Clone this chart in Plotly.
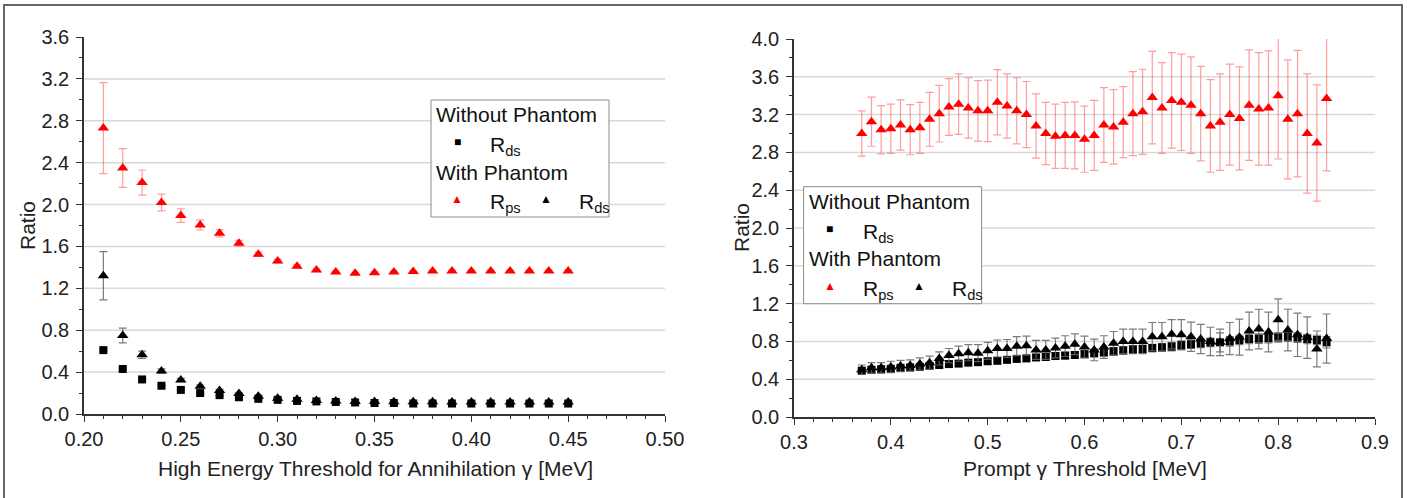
import plotly.graph_objects as go

W, H = 1410, 498

# ---------------- data: left panel ----------------
X_LEFT = [0.21, 0.22, 0.23, 0.24, 0.25, 0.26, 0.27, 0.28, 0.29, 0.30, 0.31, 0.32, 0.33,
          0.34, 0.35, 0.36, 0.37, 0.38, 0.39, 0.40, 0.41, 0.42, 0.43, 0.44, 0.45]
RDS_NOPH_LEFT = [0.61, 0.43, 0.33, 0.27, 0.23, 0.20, 0.18, 0.16, 0.145, 0.135, 0.125, 0.12, 0.115,
                 0.11, 0.105, 0.105, 0.10, 0.10, 0.10, 0.10, 0.10, 0.10, 0.10, 0.10, 0.10]
RDS_NOPH_LEFT_ERR = [0.01, 0.01, 0.008, 0.006, 0.005, 0.005, 0.004, 0.004, 0.004, 0.003, 0.003, 0.003, 0.003,
                     0.003, 0.003, 0.003, 0.003, 0.003, 0.003, 0.003, 0.003, 0.003, 0.003, 0.003, 0.003]
RPS_PH_LEFT = [2.73, 2.35, 2.21, 2.02, 1.895, 1.805, 1.725, 1.63, 1.525, 1.46, 1.41, 1.375, 1.355,
               1.345, 1.35, 1.355, 1.36, 1.365, 1.365, 1.365, 1.365, 1.365, 1.365, 1.365, 1.365]
RPS_PH_LEFT_ERR = [0.435, 0.185, 0.12, 0.08, 0.065, 0.048, 0.035, 0.028, 0.02, 0.018, 0.015, 0.012, 0.01,
                   0.01, 0.01, 0.01, 0.01, 0.01, 0.01, 0.01, 0.01, 0.01, 0.01, 0.01, 0.01]
RDS_PH_LEFT = [1.32, 0.75, 0.565, 0.41, 0.325, 0.265, 0.225, 0.195, 0.17, 0.15, 0.14, 0.13, 0.125,
               0.12, 0.12, 0.118, 0.117, 0.116, 0.115, 0.115, 0.115, 0.115, 0.115, 0.115, 0.115]
RDS_PH_LEFT_ERR = [0.23, 0.07, 0.035, 0.02, 0.015, 0.012, 0.01, 0.008, 0.007, 0.006, 0.005, 0.005, 0.005,
                   0.005, 0.005, 0.005, 0.005, 0.005, 0.005, 0.005, 0.005, 0.005, 0.005, 0.005, 0.005]

# ---------------- data: right panel ----------------
X_RIGHT = [0.37, 0.38, 0.39, 0.40, 0.41, 0.42, 0.43, 0.44, 0.45, 0.46, 0.47, 0.48, 0.49, 0.50,
           0.51, 0.52, 0.53, 0.54, 0.55, 0.56, 0.57, 0.58, 0.59, 0.60, 0.61, 0.62, 0.63, 0.64,
           0.65, 0.66, 0.67, 0.68, 0.69, 0.70, 0.71, 0.72, 0.73, 0.74, 0.75, 0.76, 0.77, 0.78,
           0.79, 0.80, 0.81, 0.82, 0.83, 0.84, 0.85]
RDS_NOPH_RIGHT = [0.49, 0.50, 0.505, 0.51, 0.52, 0.525, 0.53, 0.54, 0.55, 0.56, 0.565, 0.575, 0.58, 0.59,
                  0.595, 0.605, 0.615, 0.62, 0.63, 0.635, 0.645, 0.65, 0.656, 0.665, 0.675, 0.685, 0.695, 0.705,
                  0.715, 0.72, 0.73, 0.737, 0.745, 0.76, 0.77, 0.78, 0.79, 0.79, 0.80, 0.815, 0.825, 0.83,
                  0.835, 0.843, 0.85, 0.84, 0.825, 0.815, 0.79]
RDS_NOPH_RIGHT_ERR = [0.03, 0.03, 0.03, 0.03, 0.03, 0.03, 0.03, 0.03, 0.03, 0.03, 0.03, 0.03, 0.03, 0.03,
                      0.03, 0.03, 0.03, 0.03, 0.03, 0.035, 0.035, 0.035, 0.035, 0.035, 0.04, 0.04, 0.04, 0.04,
                      0.04, 0.04, 0.04, 0.04, 0.045, 0.045, 0.045, 0.045, 0.045, 0.1, 0.05, 0.05, 0.05, 0.05,
                      0.05, 0.05, 0.05, 0.05, 0.05, 0.05, 0.06]
RPS_PH_RIGHT = [3.00, 3.125, 3.04, 3.05, 3.09, 3.04, 3.06, 3.15, 3.21, 3.28, 3.31, 3.27, 3.24, 3.24,
                3.33, 3.29, 3.24, 3.20, 3.08, 3.00, 2.97, 2.98, 2.98, 2.94, 2.98, 3.09, 3.07, 3.12,
                3.21, 3.23, 3.38, 3.27, 3.35, 3.33, 3.30, 3.21, 3.08, 3.12, 3.20, 3.16, 3.30, 3.26,
                3.27, 3.40, 3.15, 3.21, 3.00, 2.90, 3.37]
RPS_PH_RIGHT_ERR = [0.24, 0.26, 0.255, 0.26, 0.265, 0.265, 0.27, 0.285, 0.30, 0.30, 0.32, 0.32, 0.32, 0.325,
                    0.345, 0.34, 0.35, 0.35, 0.34, 0.33, 0.34, 0.35, 0.355, 0.35, 0.37, 0.395, 0.395, 0.375,
                    0.445, 0.45, 0.49, 0.48, 0.505, 0.51, 0.51, 0.50, 0.49, 0.51, 0.535, 0.545, 0.585, 0.595,
                    0.605, 0.67, 0.63, 0.67, 0.63, 0.615, 0.765]
RDS_PH_RIGHT = [0.50, 0.52, 0.52, 0.53, 0.54, 0.545, 0.56, 0.575, 0.62, 0.65, 0.67, 0.68, 0.675, 0.70,
                0.725, 0.725, 0.75, 0.755, 0.71, 0.71, 0.73, 0.75, 0.77, 0.74, 0.71, 0.74, 0.78, 0.80,
                0.80, 0.80, 0.85, 0.85, 0.875, 0.87, 0.85, 0.825, 0.80, 0.79, 0.83, 0.845, 0.91, 0.93,
                0.90, 1.03, 0.92, 0.87, 0.84, 0.72, 0.83]
RDS_PH_RIGHT_ERR = [0.05, 0.055, 0.055, 0.06, 0.06, 0.06, 0.065, 0.07, 0.07, 0.075, 0.08, 0.085, 0.09, 0.09,
                    0.09, 0.095, 0.10, 0.10, 0.10, 0.10, 0.105, 0.11, 0.11, 0.115, 0.115, 0.12, 0.125, 0.13,
                    0.13, 0.13, 0.15, 0.15, 0.155, 0.16, 0.155, 0.155, 0.15, 0.14, 0.17, 0.19, 0.20, 0.21,
                    0.21, 0.22, 0.22, 0.23, 0.22, 0.19, 0.26]

# axis settings
LEFT_XRANGE = [0.20, 0.50]
LEFT_YRANGE = [0.0, 3.6]
LEFT_GRID = [0.4, 0.8, 1.2, 1.6, 2.0, 2.4, 2.8, 3.2]
RIGHT_XRANGE = [0.3, 0.9]
RIGHT_YRANGE = [0.0, 4.0]
RIGHT_GRID = [0.4, 0.8, 1.2, 1.6, 2.0, 2.4, 2.8, 3.2, 3.6]

FONT = "Arial, Liberation Sans, sans-serif"
RED = "#ff0000"
RED_ERR = "rgba(255,60,60,0.5)"
BLK_ERR = "rgba(100,100,100,0.85)"


def px(x):
    return x / W


def py(y):
    return 1 - y / H


fig = go.Figure()


def add_series(x, y, e, symbol, color, ecolor, size, xa, ya):
    fig.add_trace(go.Scatter(
        x=x, y=y, mode="markers", xaxis=xa, yaxis=ya, showlegend=False, cliponaxis=False,
        marker=dict(symbol=symbol, color=color, size=size, line=dict(width=0)),
        error_y=dict(type="data", array=e, visible=True, color=ecolor, thickness=1.2, width=4),
    ))


# left panel
add_series(X_LEFT, RDS_NOPH_LEFT, RDS_NOPH_LEFT_ERR, "square", "black", BLK_ERR, 8, "x", "y")
add_series(X_LEFT, RDS_PH_LEFT, RDS_PH_LEFT_ERR, "triangle-up", "black", BLK_ERR, 10, "x", "y")
add_series(X_LEFT, RPS_PH_LEFT, RPS_PH_LEFT_ERR, "triangle-up", RED, RED_ERR, 10, "x", "y")
# right panel
add_series(X_RIGHT, RDS_NOPH_RIGHT, RDS_NOPH_RIGHT_ERR, "square", "black", BLK_ERR, 8, "x2", "y2")
add_series(X_RIGHT, RDS_PH_RIGHT, RDS_PH_RIGHT_ERR, "triangle-up", "black", BLK_ERR, 10, "x2", "y2")
add_series(X_RIGHT, RPS_PH_RIGHT, RPS_PH_RIGHT_ERR, "triangle-up", RED, RED_ERR, 10, "x2", "y2")

axis_common = dict(
    showline=True, linecolor="#333333", linewidth=1.5, mirror=False,
    ticks="outside", ticklen=6, tickwidth=1.2, tickcolor="#333333",
    showgrid=False, zeroline=False, automargin=False,
    tickfont=dict(family=FONT, size=20, color="#222222"),
)

fig.update_layout(
    width=W, height=H,
    margin=dict(l=0, r=0, t=0, b=0),
    paper_bgcolor="white", plot_bgcolor="white",
    font=dict(family=FONT, color="#222222"),
    xaxis=dict(axis_common, domain=[px(84), px(665)], range=LEFT_XRANGE, anchor="y",
               dtick=0.05, tick0=0.2, tickformat=".2f",
               minor=dict(ticks="outside", ticklen=3, dtick=0.01, tickcolor="#333333")),
    yaxis=dict(axis_common, domain=[py(414), py(37)], range=LEFT_YRANGE, anchor="x",
               dtick=0.4, tick0=0, tickformat=".1f", ticklabelstandoff=3,
               minor=dict(ticks="outside", ticklen=3, dtick=0.2, tickcolor="#333333")),
    xaxis2=dict(axis_common, domain=[px(794), px(1375)], range=RIGHT_XRANGE, anchor="y2",
                dtick=0.1, tick0=0.3, tickformat=".1f",
                minor=dict(ticks="outside", ticklen=3, dtick=0.02, tickcolor="#333333")),
    yaxis2=dict(axis_common, domain=[py(417), py(39)], range=RIGHT_YRANGE, anchor="x2",
                dtick=0.4, tick0=0, tickformat=".1f", ticklabelstandoff=3,
                minor=dict(ticks="outside", ticklen=3, dtick=0.2, tickcolor="#333333")),
)

shapes = []
for g in LEFT_GRID:
    shapes.append(dict(type="line", xref="x", yref="y", x0=LEFT_XRANGE[0], x1=LEFT_XRANGE[1],
                       y0=g, y1=g, line=dict(color="#d9d9d9", width=1.5), layer="below"))
for g in RIGHT_GRID:
    shapes.append(dict(type="line", xref="x2", yref="y2", x0=RIGHT_XRANGE[0], x1=RIGHT_XRANGE[1],
                       y0=g, y1=g, line=dict(color="#d9d9d9", width=1.5), layer="below"))
# outer frame
shapes.append(dict(type="rect", xref="paper", yref="paper", x0=px(4), x1=px(1402), y0=-0.05, y1=py(5),
                   line=dict(color="#666666", width=2), fillcolor="rgba(0,0,0,0)", layer="above"))

annotations = []
# axis titles
annotations.append(dict(text="High Energy Threshold for Annihilation γ [MeV]", xref="paper", yref="paper",
                        x=px(375), y=py(468), showarrow=False, xanchor="center", yanchor="middle",
                        font=dict(family=FONT, size=21, color="#222222")))
annotations.append(dict(text="Prompt γ Threshold [MeV]", xref="paper", yref="paper",
                        x=px(1084.5), y=py(468), showarrow=False, xanchor="center", yanchor="middle",
                        font=dict(family=FONT, size=21, color="#222222")))
annotations.append(dict(text="Ratio", xref="paper", yref="paper", textangle=-90,
                        x=px(27), y=py(226), showarrow=False, xanchor="center", yanchor="middle",
                        font=dict(family=FONT, size=21, color="#222222")))
annotations.append(dict(text="Ratio", xref="paper", yref="paper", textangle=-90,
                        x=px(742), y=py(228), showarrow=False, xanchor="center", yanchor="middle",
                        font=dict(family=FONT, size=21, color="#222222")))


def legend(ox, oy):
    # box
    shapes.append(dict(type="rect", xref="paper", yref="paper",
                       x0=px(ox + 431), x1=px(ox + 609), y0=py(oy + 217), y1=py(oy + 100),
                       line=dict(color="#8c8c8c", width=1), fillcolor="white", layer="above"))
    items = [
        ("Without Phantom", 434, 115, "#111111", 21, "left"),
        ("■", 457, 142, "black", 12, "center"),
        ("R<sub>ds</sub>", 488, 146, "#111111", 21, "left"),
        ("With Phantom", 434, 172, "#111111", 21, "left"),
        ("▲", 457, 199, RED, 12, "center"),
        ("R<sub>ps</sub>", 488, 203, "#111111", 21, "left"),
        ("▲", 546, 199, "black", 12, "center"),
        ("R<sub>ds</sub>", 577, 203, "#111111", 21, "left"),
    ]
    for t, x, y, c, s, xa in items:
        annotations.append(dict(text=t, xref="paper", yref="paper", x=px(ox + x), y=py(oy + y),
                                showarrow=False, xanchor=xa, yanchor="middle",
                                font=dict(family=FONT, size=s, color=c)))


legend(0, 0)
legend(372.6, 86.7)

fig.update_layout(shapes=shapes, annotations=annotations)
fig.write_html("out.html")
